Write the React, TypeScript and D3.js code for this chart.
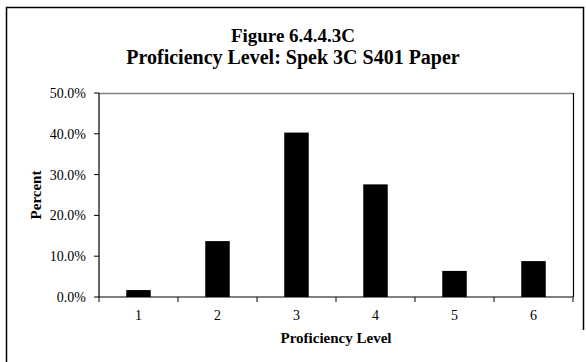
import React from "react";
import * as d3 from "d3";

const categories = ["1", "2", "3", "4", "5", "6"];
const percents = [0.017, 0.137, 0.403, 0.276, 0.064, 0.088];
const yTicks = [0, 0.1, 0.2, 0.3, 0.4, 0.5];
const titleLines = ["Figure 6.4.4.3C", "Proficiency Level: Spek 3C S401 Paper"];
const xTitle = "Proficiency Level";
const yTitle = "Percent";

const W = 586;
const H = 362;
const plot = { left: 99, right: 573, top: 93, bottom: 297 };
const FONT = "'Liberation Serif', 'Times New Roman', serif";

export default function App() {
  const x = d3
    .scaleBand<string>()
    .domain(categories)
    .range([plot.left, plot.right])
    .paddingInner(0.69)
    .paddingOuter(0.345);
  const y = d3.scaleLinear().domain([0, 0.5]).range([plot.bottom, plot.top]);
  const step = x.step();
  const fmt = d3.format(".1%");
  const boundaries = d3.range(categories.length + 1).map((i) => plot.left + i * step);
  const cx = (plot.left + plot.right) / 2;

  return (
    <svg
      width={W}
      height={H}
      style={{ position: "absolute", left: 0, top: 0, background: "#fff", fontFamily: FONT }}
    >
      <rect x={0} y={0} width={W} height={H} fill="#fff" />
      {/* outer border */}
      <path d={`M6.5,${H} L6.5,7.5 L583.5,7.5 L583.5,330`} fill="none" stroke="#000" strokeWidth={1.5} />
      {/* titles */}
      {titleLines.map((t, i) => (
        <text key={t} x={W / 2} y={42 + i * 22} textAnchor="middle" fontWeight="bold" fontSize={i === 0 ? 19 : 20}>
          {t}
        </text>
      ))}
      {/* plot border top (gray) and right */}
      <line x1={plot.left} x2={plot.right} y1={plot.top + 0.5} y2={plot.top + 0.5} stroke="#808080" strokeWidth={1.5} />
      <line x1={plot.right + 0.5} x2={plot.right + 0.5} y1={plot.top} y2={plot.bottom} stroke="#000" strokeWidth={1.2} />
      {/* bars */}
      {categories.map((c, i) => (
        <rect
          key={c}
          x={x(c)}
          y={y(percents[i])}
          width={x.bandwidth()}
          height={y(0) - y(percents[i])}
          fill="#000"
        />
      ))}
      {/* y axis */}
      <line x1={plot.left} x2={plot.left} y1={plot.top} y2={plot.bottom} stroke="#000" strokeWidth={1.2} />
      {yTicks.map((t) => (
        <g key={t}>
          <line x1={plot.left - 5} x2={plot.left} y1={y(t)} y2={y(t)} stroke="#000" strokeWidth={1} />
          <text x={plot.left - 13} y={y(t)} dy="0.35em" textAnchor="end" fontSize={14}>
            {fmt(t)}
          </text>
        </g>
      ))}
      {/* x axis */}
      <line x1={plot.left} x2={plot.right} y1={plot.bottom} y2={plot.bottom} stroke="#000" strokeWidth={1.2} />
      {boundaries.map((b, i) => (
        <line key={i} x1={b} x2={b} y1={plot.bottom} y2={plot.bottom + 5} stroke="#000" strokeWidth={1} />
      ))}
      {categories.map((c) => (
        <text key={c} x={(x(c) as number) + x.bandwidth() / 2} y={320} textAnchor="middle" fontSize={14}>
          {c}
        </text>
      ))}
      <text x={cx} y={343} textAnchor="middle" fontWeight="bold" fontSize={15}>
        {xTitle}
      </text>
      <text
        transform={`translate(41,${(plot.top + plot.bottom) / 2}) rotate(-90)`}
        textAnchor="middle"
        fontWeight="bold"
        fontSize={15}
      >
        {yTitle}
      </text>
    </svg>
  );
}
